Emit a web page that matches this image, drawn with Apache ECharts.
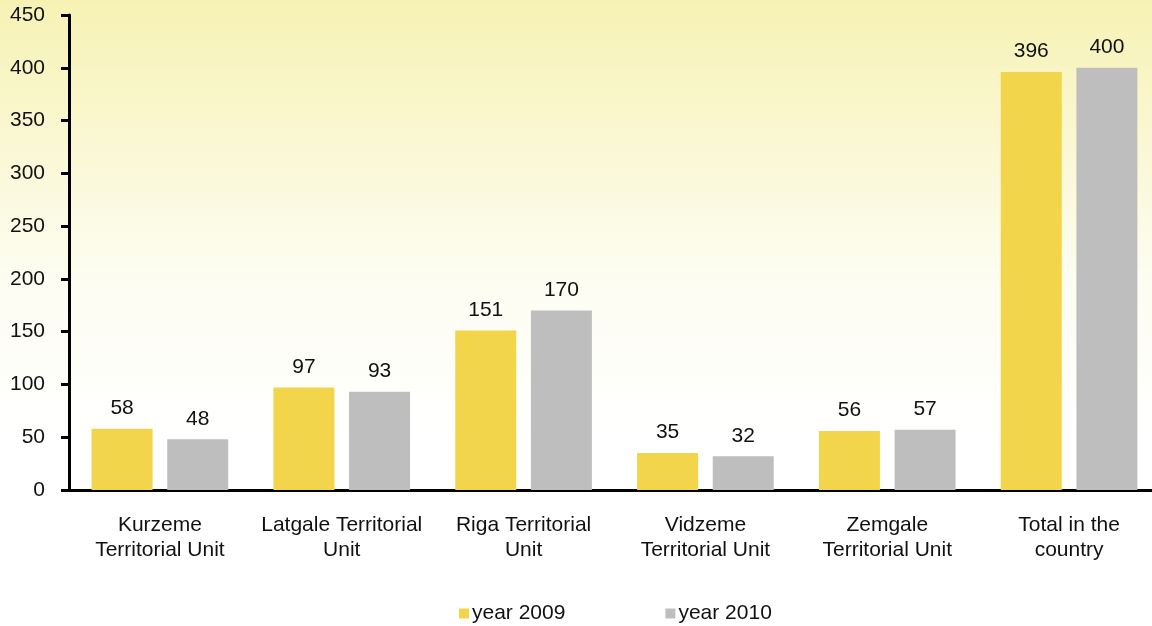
<!DOCTYPE html>
<html>
<head>
<meta charset="utf-8">
<script src="https://cdn.jsdelivr.net/npm/echarts@6/dist/echarts.min.js"></script>
<style>
  html, body { margin: 0; padding: 0; background: #fff; }
  #chart { width: 1152px; height: 626px; }
</style>
</head>
<body>
<div id="chart"></div>
<script>
// categories and values
var categories = [
  'Kurzeme\nTerritorial Unit',
  'Latgale Territorial\nUnit',
  'Riga Territorial\nUnit',
  'Vidzeme\nTerritorial Unit',
  'Zemgale\nTerritorial Unit',
  'Total in the\ncountry'
]
var year2009 = [58, 97, 151, 35, 56, 396]
var year2010 = [48, 93, 170, 32, 57, 400]
var seriesNames = ['year 2009', 'year 2010']

var font = 'Liberation Sans, Arial, sans-serif'

var chart = echarts.init(document.getElementById('chart'))

// bar label settings shared by both series
function barLabel () {
  return {
    show: true,
    position: 'top',
    distance: 10,
    color: '#111',
    fontSize: 21,
    fontFamily: font
  }
}

chart.setOption({
  animation: false,
  // pale yellow wash fading to white
  graphic: [{
    type: 'rect',
    z: -10,
    silent: true,
    shape: { x: 0, y: 0, width: 1152, height: 626 },
    style: {
      fill: new echarts.graphic.LinearGradient(0, 0, 0, 1, [
        { offset: 0, color: '#f7f2b4' },
        { offset: 0.45, color: '#fdfdf2' },
        { offset: 0.7, color: '#ffffff' },
        { offset: 1, color: '#ffffff' }
      ])
    }
  }],
  // plot runs a little past the canvas on the right, like the original
  grid: { left: 69, right: -8, top: 15, bottom: 136, outerBoundsMode: 'none' },
  legend: {
    data: seriesNames,
    left: 454,
    top: 598,
    itemWidth: 10,
    itemHeight: 10,
    itemGap: 100,
    icon: 'rect',
    textStyle: { fontSize: 21, color: '#111', fontFamily: font, padding: [0, 0, 0, -2] }
  },
  xAxis: {
    type: 'category',
    data: categories,
    axisLine: { lineStyle: { color: '#000', width: 3 } },
    axisTick: { show: false },
    axisLabel: {
      interval: 0,
      margin: 23,
      fontSize: 21,
      lineHeight: 25,
      color: '#111',
      fontFamily: font
    }
  },
  yAxis: {
    type: 'value',
    min: 0,
    max: 450,
    interval: 50,
    splitLine: { show: false },
    axisLine: { show: true, lineStyle: { color: '#000', width: 3 } },
    axisTick: { show: true, length: 8, lineStyle: { color: '#000', width: 3 } },
    axisLabel: { margin: 24, fontSize: 21, color: '#111', fontFamily: font }
  },
  series: [
    {
      name: seriesNames[0],
      type: 'bar',
      data: year2009,
      barWidth: 61,
      barGap: '24%',
      itemStyle: { color: '#f2d54b' },
      label: barLabel()
    },
    {
      name: seriesNames[1],
      type: 'bar',
      data: year2010,
      barWidth: 61,
      barGap: '24%',
      itemStyle: { color: '#bebebe' },
      label: barLabel()
    }
  ]
})
</script>
</body>
</html>
